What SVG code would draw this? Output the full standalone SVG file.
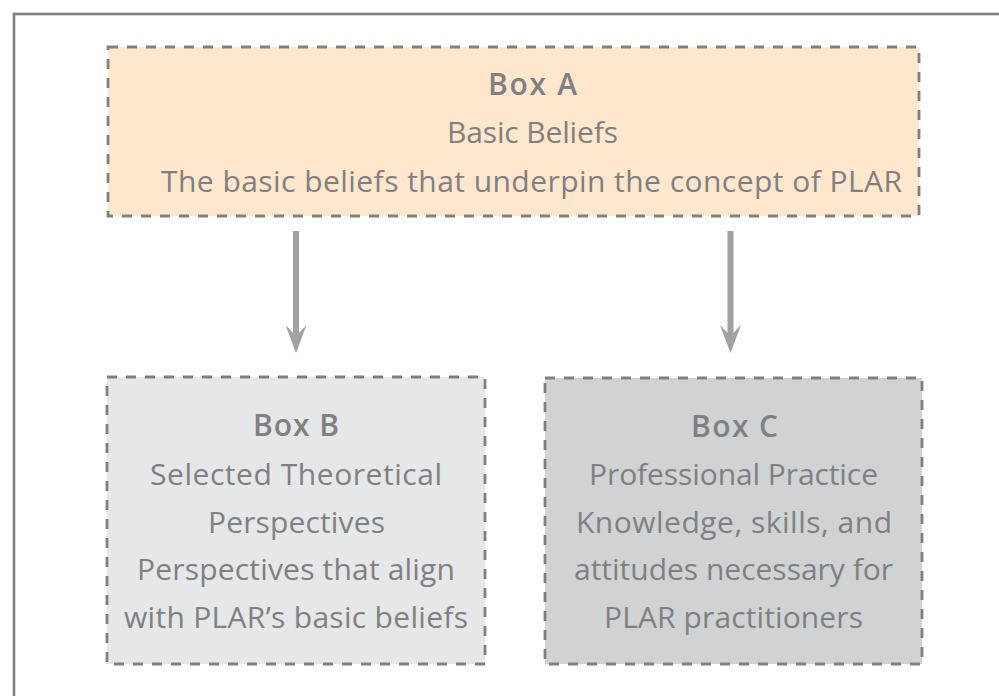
<svg xmlns="http://www.w3.org/2000/svg" width="999" height="696" viewBox="0 0 999 696">
<style>
.frame{fill:none;stroke:#808082;stroke-width:2.6}
.box{stroke:#808082;stroke-width:2.8;stroke-dasharray:10 9}
.t{font-family:"Open Sans","Noto Sans","Liberation Sans",sans-serif;font-size:30px;fill:#808083;text-anchor:middle;font-variant-ligatures:none}
.b{font-weight:600}
.conn{fill:none;stroke:#a1a1a4;stroke-width:6}
</style>
<defs>
<marker id="ah" markerUnits="userSpaceOnUse" markerWidth="28" markerHeight="21" viewBox="0 0 28 21" refX="13" refY="10.5" orient="auto">
<path d="M0,0 L28,10.5 L0,21 L11,10.5 Z" fill="#a1a1a4"/>
</marker>
</defs>
<rect class="frame" x="14" y="14" width="1000" height="700"/>
<g id="connectors">
<path class="conn" d="M296,231 L296,338" marker-end="url(#ah)"/>
<path class="conn" d="M730.5,231 L730.5,338" marker-end="url(#ah)"/>
</g>
<g id="boxA">
<rect class="box" x="108" y="47" width="811" height="169" fill="#fee7cc"/>
<text class="t b" x="532.5" y="95" textLength="89">Box A</text>
<text class="t" x="532.5" y="143" textLength="171">Basic Beliefs</text>
<text class="t" x="531.5" y="192" textLength="741">The basic beliefs that underpin the concept of PLAR</text>
</g>
<g id="boxB">
<rect class="box" x="107" y="377" width="378" height="287" fill="#e6e7e8"/>
<text class="t b" x="296" y="436" textLength="86">Box B</text>
<text class="t" x="296" y="485" textLength="292">Selected Theoretical</text>
<text class="t" x="296.5" y="533" textLength="177">Perspectives</text>
<text class="t" x="296" y="580" textLength="318">Perspectives that align</text>
<text class="t" x="296" y="628" textLength="344">with PLAR’s basic beliefs</text>
</g>
<g id="boxC">
<rect class="box" x="545" y="378" width="377" height="286" fill="#d1d2d4"/>
<text class="t b" x="734.5" y="437" textLength="87">Box C</text>
<text class="t" x="733.5" y="485" textLength="289">Professional Practice</text>
<text class="t" x="734" y="533" textLength="316">Knowledge, skills, and</text>
<text class="t" x="733.5" y="580" textLength="319">attitudes necessary for</text>
<text class="t" x="733.5" y="628" textLength="259">PLAR practitioners</text>
</g>
</svg>
